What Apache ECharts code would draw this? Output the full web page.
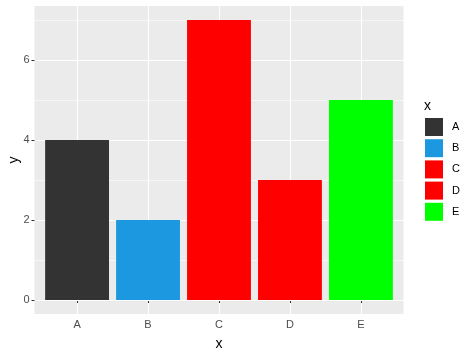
<!DOCTYPE html>
<html><head><meta charset="utf-8">
<script src="https://cdn.jsdelivr.net/npm/echarts@6/dist/echarts.min.js"></script>
<style>html,body{margin:0;padding:0;background:#fff}#c{width:474px;height:355px}</style>
</head><body><div id="c"></div>
<script>
const categories = ['A', 'B', 'C', 'D', 'E'];
const values = [4, 2, 7, 3, 5];
const colors = ['#333333', '#1b98e0', '#ff0000', '#ff0000', '#00ff00'];
const yMajorTicks = [0, 2, 4, 6];
const yMinorTicks = [1, 3, 5, 7];
const xTicks = categories.map((c, i) => i + 1);

const chart = echarts.init(document.getElementById('c'), null, {renderer: 'canvas'});
const gridLeft = 34.5, gridRight = 70.5, gridTop = 6, gridBottom = 41;
const panelW = 474 - gridLeft - gridRight;
const unit = panelW / 5.2;
const font = 'Liberation Sans, Arial, sans-serif';

const series = categories.map((c, i) => ({
  name: c,
  type: 'bar',
  xAxisIndex: 0,
  yAxisIndex: 0,
  barWidth: unit * 0.9,
  barGap: '-100%',
  itemStyle: {color: colors[i]},
  data: [[i + 1, values[i]]],
  animation: false
}));

chart.setOption({
  animation: false,
  textStyle: {fontFamily: font},
  title: {text: 'x', left: 424, top: 99, padding: 0, textStyle: {fontSize: 14, fontWeight: 'normal', color: '#000', fontFamily: font}},
  legend: {
    orient: 'vertical', left: 425, top: 118, padding: 0,
    itemWidth: 18, itemHeight: 18, itemGap: 3.2, icon: 'rect',
    textStyle: {fontSize: 11, color: '#000', fontFamily: font, padding: [0, 0, 0, 4]},
    data: categories
  },
  grid: {left: gridLeft, right: gridRight, top: gridTop, bottom: gridBottom, outerBoundsMode: 'none', containLabel: false, show: true, backgroundColor: '#ebebeb', borderWidth: 0},
  xAxis: {
    type: 'value', min: 0.4, max: 5.6,
    name: 'x', nameLocation: 'middle', nameGap: 23, nameMoveOverlap: false,
    nameTextStyle: {fontSize: 14, color: '#000', fontFamily: font},
    axisLine: {show: false},
    axisTick: {show: true, length: 3, lineStyle: {color: '#333', width: 1}, customValues: xTicks},
    axisLabel: {customValues: xTicks, formatter: v => categories[Math.round(v) - 1], fontSize: 11, color: '#4d4d4d', margin: 5, fontFamily: font},
    splitLine: {show: true, lineStyle: {color: '#ffffff', width: 1.1}}
  },
  yAxis: [{
    type: 'value', min: -0.35, max: 7.35,
    name: 'y', nameLocation: 'middle', nameGap: 13, nameRotate: 90, nameMoveOverlap: false,
    nameTextStyle: {fontSize: 14, color: '#000', fontFamily: font},
    axisLine: {show: false},
    axisTick: {show: true, length: 3, lineStyle: {color: '#333', width: 1}, customValues: yMajorTicks},
    axisLabel: {customValues: yMajorTicks, fontSize: 11, color: '#4d4d4d', margin: 5, fontFamily: font},
    splitLine: {show: true, lineStyle: {color: '#ffffff', width: 1.1}},
    z: 1
  }, {
    type: 'value', min: -0.35, max: 7.35, position: 'left',
    axisLine: {show: false},
    axisTick: {show: false, customValues: yMinorTicks},
    axisLabel: {show: false, customValues: yMinorTicks},
    splitLine: {show: true, lineStyle: {color: '#ffffff', width: 0.55}}
  }],
  series: series
});
</script></body></html>
